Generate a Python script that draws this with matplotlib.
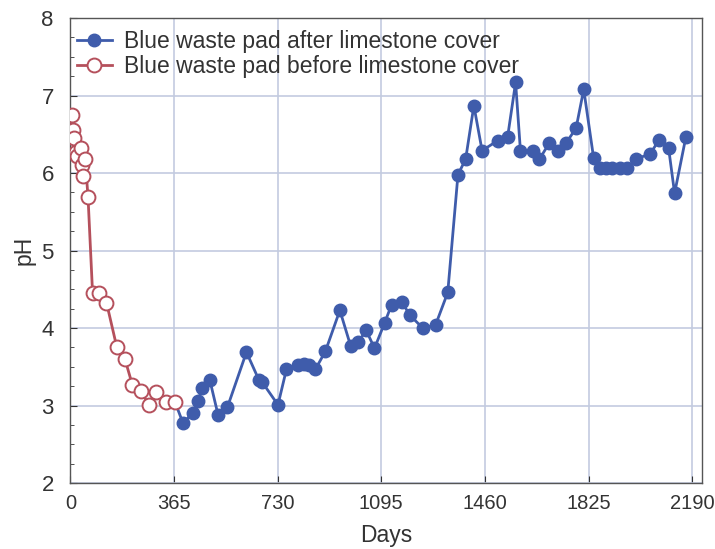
import matplotlib
matplotlib.use("Agg")
import matplotlib.pyplot as plt
from matplotlib.ticker import MultipleLocator

plt.rcParams['font.family'] = ['Liberation Sans', 'DejaVu Sans']

# Before limestone cover (red, hollow)
before_days = [5, 8, 12, 18, 22, 36, 42, 45, 52, 62, 78, 100, 127, 163, 192, 218, 247, 277, 303, 336, 368]
before_ph = [6.75, 6.55, 6.45, 6.27, 6.22, 6.33, 6.10, 5.96, 6.18, 5.69, 4.45, 4.45, 4.33, 3.76, 3.60, 3.27,
             3.19, 3.01, 3.17, 3.05, 3.05]

# After limestone cover (blue, filled)
after_days = [368, 397, 430, 450, 464, 491, 520, 553, 620, 664, 676, 731, 761, 802, 823, 839, 863, 898,
              949, 987, 1013, 1042, 1071, 1107, 1131, 1167, 1195, 1241, 1286, 1329, 1365, 1392, 1421,
              1450, 1505, 1540, 1568, 1585, 1628, 1652, 1687, 1716, 1746, 1781, 1808, 1843, 1866, 1888,
              1908, 1936, 1960, 1992, 2042, 2074, 2107, 2128, 2168]
after_ph = [3.05, 2.77, 2.91, 3.06, 3.23, 3.33, 2.88, 2.98, 3.69, 3.33, 3.30, 3.01, 3.47, 3.53, 3.54,
            3.53, 3.47, 3.70, 4.23, 3.77, 3.82, 3.97, 3.74, 4.07, 4.30, 4.34, 4.17, 4.00, 4.04, 4.46,
            5.98, 6.18, 6.87, 6.29, 6.42, 6.47, 7.17, 6.29, 6.29, 6.18, 6.39, 6.29, 6.39, 6.58, 7.08,
            6.19, 6.06, 6.06, 6.06, 6.06, 6.06, 6.18, 6.25, 6.43, 6.32, 5.74, 6.47]

xticks = [0, 365, 730, 1095, 1460, 1825, 2190]
yticks = [2, 3, 4, 5, 6, 7, 8]

blue = '#3f5cab'
red = '#b5505c'

fig = plt.figure(figsize=(7.15, 5.49), dpi=100)
ax = fig.add_axes([0.0985, 0.12, 0.8835, 0.847])

ax.plot(after_days, after_ph, color=blue, lw=2.0, marker='o', ms=9, mfc=blue, mec=blue,
        label='Blue waste pad after limestone cover', zorder=3)
ax.plot(before_days, before_ph, color=red, lw=2.0, marker='o', ms=10, mfc='white', mec=red,
        mew=1.4, label='Blue waste pad before limestone cover', zorder=4)

ax.set_xlim(0, 2225)
ax.set_ylim(2, 8)
ax.set_xticks(xticks)
ax.set_yticks(yticks)
ax.yaxis.set_minor_locator(MultipleLocator(0.25))
ax.tick_params(axis='both', which='both', direction='in', colors='#333333',
               labelcolor='#333333')
ax.tick_params(axis='both', which='major', length=5)
ax.tick_params(axis='y', which='minor', length=3)
ax.tick_params(axis='x', pad=8, labelsize=14.5)
ax.tick_params(axis='y', pad=12, labelsize=16)
ax.grid(True, which='major', color='#c3cbe0', lw=1.2)
ax.set_axisbelow(True)
for s in ax.spines.values():
    s.set_color('#555555')
    s.set_linewidth(1.0)

ax.set_xlabel('Days', fontsize=16.5, color='#333333', labelpad=8)
ax.set_ylabel('pH', fontsize=16.5, color='#333333', labelpad=4)

leg = ax.legend(loc='upper left', frameon=False, fontsize=16.5, handlelength=1.5,
                handletextpad=0.55, borderaxespad=0.0, labelspacing=0.08, borderpad=0.3,
                bbox_to_anchor=(0.0, 0.989))
for t in leg.get_texts():
    t.set_color('#333333')

fig.savefig('out.png', dpi=100)
